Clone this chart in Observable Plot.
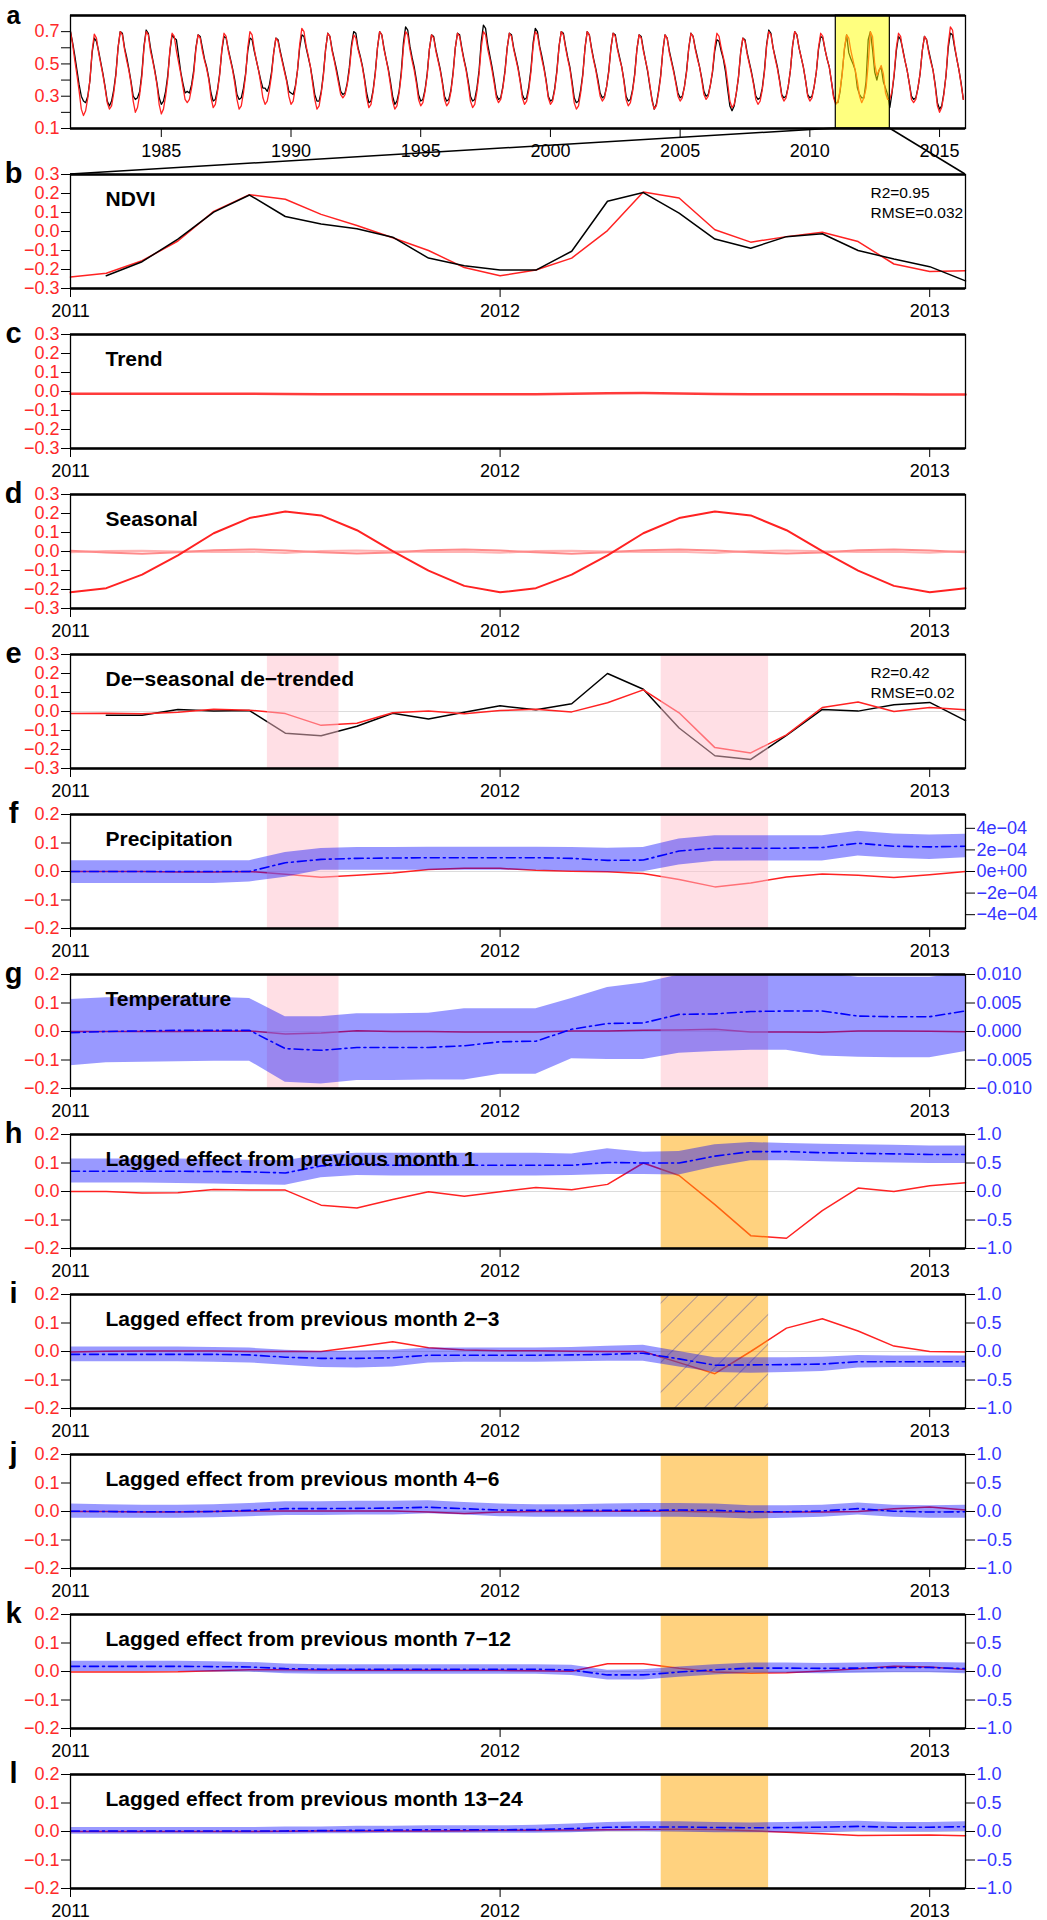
<!DOCTYPE html>
<html><head><meta charset="utf-8">
<script src="https://cdn.jsdelivr.net/npm/d3@7"></script>
<script src="https://cdn.jsdelivr.net/npm/@observablehq/plot@0.6"></script>
<style>
html,body{margin:0;padding:0;background:#fff;}
#chart{position:relative;width:1047px;height:1920px;background:#fff;overflow:hidden;}
#chart svg{position:absolute;left:0;}
</style></head><body><div id="chart"></div>
<script>
// ---------------- DATA ----------------
// Panel a: monthly NDVI, July 1981 - Dec 2015 (black = observed, red = modelled)
const aStart = 1981.5;
const aObs = [
 .70,.63,.55,.46,.37,.30,
 .27,.26,.30,.40,.57,.66,.64,.58,.51,.44,.36,.27,
 .24,.27,.34,.44,.60,.70,.69,.60,.54,.47,.39,.30,
 .28,.29,.33,.44,.61,.71,.69,.60,.53,.46,.38,.29,
 .25,.27,.33,.43,.58,.68,.66,.65,.55,.45,.38,.32,
 .33,.32,.37,.46,.60,.68,.67,.60,.53,.48,.41,.32,
 .27,.28,.34,.44,.58,.67,.66,.59,.53,.47,.40,.31,
 .28,.29,.35,.44,.58,.66,.65,.58,.52,.46,.40,.35,
 .35,.33,.37,.45,.57,.66,.65,.58,.52,.46,.40,.33,
 .32,.31,.36,.46,.60,.68,.67,.60,.54,.48,.40,.31,
 .27,.27,.33,.44,.59,.69,.67,.59,.53,.47,.40,.33,
 .31,.32,.38,.48,.62,.70,.69,.60,.55,.49,.41,.32,
 .26,.27,.34,.45,.60,.70,.68,.60,.53,.47,.39,.30,
 .25,.27,.33,.45,.63,.73,.71,.61,.54,.48,.40,.31,
 .27,.28,.34,.44,.59,.68,.67,.59,.53,.47,.39,.30,
 .27,.28,.34,.45,.60,.69,.68,.60,.53,.47,.39,.30,
 .27,.28,.35,.46,.64,.74,.72,.62,.55,.48,.40,.31,
 .28,.29,.36,.46,.60,.69,.68,.60,.54,.48,.40,.31,
 .28,.29,.36,.47,.63,.72,.70,.61,.55,.48,.40,.30,
 .27,.28,.35,.46,.61,.70,.69,.61,.54,.48,.39,.29,
 .26,.27,.34,.44,.60,.70,.68,.60,.53,.47,.40,.32,
 .29,.30,.36,.46,.60,.69,.68,.60,.54,.48,.40,.30,
 .27,.28,.34,.44,.59,.68,.67,.59,.52,.45,.36,.28,
 .22,.25,.33,.43,.58,.68,.66,.58,.52,.46,.39,.32,
 .29,.30,.36,.46,.60,.69,.67,.60,.54,.48,.41,.33,
 .30,.31,.37,.45,.58,.65,.64,.58,.53,.45,.34,.24,
 .21,.24,.32,.42,.57,.66,.65,.57,.51,.45,.38,.30,
 .28,.29,.35,.46,.62,.71,.69,.60,.54,.48,.40,.31,
 .29,.30,.36,.46,.61,.70,.68,.60,.54,.48,.40,.31,
 .29,.30,.36,.45,.59,.67,.66,.59,.53,.48,.39,.30,
 .26,.26,.33,.45,.59,.68,.57,.53,.50,.46,.35,.31,
 .29,.29,.39,.65,.70,.59,.45,.40,.46,.48,.39,.35,
 .31,.23,.32,.43,.58,.67,.65,.59,.52,.46,.38,.30,
 .28,.29,.35,.44,.58,.67,.65,.58,.52,.46,.37,.26,
 .22,.24,.32,.43,.60,.69,.68,.60,.53,.46,.38,.28
];
const aMod = [
 .70,.62,.52,.43,.33,.22,
 .18,.21,.29,.40,.58,.685,.66,.57,.50,.43,.35,.26,
 .22,.24,.32,.43,.60,.70,.68,.59,.52,.46,.38,.27,
 .20,.23,.31,.42,.60,.70,.68,.58,.52,.45,.37,.25,
 .19,.22,.30,.41,.59,.69,.67,.58,.51,.44,.36,.28,
 .26,.28,.35,.44,.59,.68,.66,.58,.52,.47,.40,.29,
 .23,.25,.33,.43,.59,.69,.67,.58,.52,.46,.38,.28,
 .22,.24,.32,.43,.60,.70,.68,.59,.52,.46,.38,.29,
 .25,.27,.34,.43,.57,.66,.64,.57,.51,.45,.39,.30,
 .25,.27,.35,.46,.62,.72,.70,.61,.55,.48,.38,.28,
 .22,.24,.32,.43,.59,.69,.67,.58,.52,.45,.38,.31,
 .29,.31,.37,.46,.60,.68,.66,.59,.54,.48,.40,.29,
 .23,.25,.33,.44,.60,.70,.68,.59,.53,.46,.37,.27,
 .22,.24,.32,.43,.60,.70,.68,.59,.52,.46,.38,.28,
 .24,.26,.33,.43,.59,.68,.66,.58,.52,.46,.38,.28,
 .24,.26,.33,.44,.60,.69,.67,.59,.52,.46,.37,.27,
 .23,.25,.33,.44,.60,.70,.68,.59,.53,.46,.38,.29,
 .26,.28,.35,.45,.60,.69,.67,.59,.53,.47,.39,.29,
 .25,.27,.34,.45,.61,.70,.68,.60,.53,.47,.39,.29,
 .25,.27,.34,.45,.61,.70,.68,.60,.53,.47,.37,.26,
 .22,.24,.32,.43,.60,.70,.68,.59,.52,.46,.38,.30,
 .27,.29,.36,.45,.60,.69,.67,.59,.53,.48,.39,.28,
 .24,.26,.33,.43,.59,.68,.66,.58,.52,.46,.37,.27,
 .22,.24,.32,.42,.58,.68,.66,.57,.51,.45,.38,.30,
 .27,.29,.36,.45,.60,.69,.67,.59,.53,.48,.40,.31,
 .28,.30,.37,.46,.60,.69,.67,.60,.54,.48,.38,.27,
 .23,.25,.32,.42,.57,.66,.64,.56,.50,.44,.37,.28,
 .25,.27,.34,.45,.61,.70,.68,.60,.53,.47,.39,.30,
 .27,.29,.36,.46,.61,.70,.68,.60,.54,.48,.40,.30,
 .27,.29,.36,.45,.60,.69,.67,.59,.53,.48,.39,.29,
 .25,.27,.34,.44,.60,.68,.66,.58,.52,.46,.39,.30,
 .26,.29,.35,.50,.70,.67,.50,.43,.46,.49,.44,.32,
 .28,.28,.33,.44,.60,.69,.67,.58,.52,.46,.38,.28,
 .26,.28,.35,.44,.58,.67,.65,.57,.51,.46,.36,.24,
 .20,.23,.31,.43,.62,.73,.71,.61,.53,.46,.37,.28
];
const aXTicks = [1985, 1990, 1995, 2000, 2005, 2010, 2015];
const aYTicks = [0.1, 0.2, 0.3, 0.4, 0.5, 0.6, 0.7];
const aYLabelled = [0.1, 0.3, 0.5, 0.7];
const aXDomain = [1981.5, 2016];
const aYDomain = [0.1, 0.8];

// Zoomed panels: monthly, Jan 2011 - Feb 2013
const zStart = 2011;
const zXTicks = [2011, 2012, 2013];
const zXDomain = [2011, 2013 + 1 / 12];
const shadeMonths = [[5.5, 7.5], [16.5, 19.5]];   // pink windows (e-g); 2nd one orange in h-l

// b NDVI anomaly
const bObs = [null, -0.233, -0.159, -0.040, 0.102, 0.192, 0.079, 0.040, 0.014, -0.030, -0.140, -0.180, -0.203, -0.203, -0.104, 0.159, 0.205, 0.097, -0.040, -0.088, -0.027, -0.012, -0.100, -0.145, -0.185, -0.260];
const bMod = [-0.240, -0.220, -0.154, -0.050, 0.106, 0.194, 0.170, 0.090, 0.032, -0.033, -0.100, -0.190, -0.233, -0.203, -0.140, 0.005, 0.208, 0.176, 0.009, -0.056, -0.027, -0.004, -0.053, -0.171, -0.210, -0.207];
// c trend
const cTrend = [-0.012, -0.012, -0.012, -0.012, -0.012, -0.012, -0.013, -0.014, -0.014, -0.014, -0.014, -0.014, -0.014, -0.014, -0.012, -0.009, -0.008, -0.010, -0.013, -0.015, -0.015, -0.015, -0.015, -0.015, -0.016, -0.016];
// d seasonal
const dSeason = [-0.215, -0.193, -0.122, -0.020, 0.096, 0.176, 0.211, 0.190, 0.112, 0.002, -0.101, -0.181, -0.215, -0.193, -0.122, -0.020, 0.096, 0.176, 0.211, 0.190, 0.112, 0.002, -0.101, -0.181, -0.215, -0.193];
const dSeasonB = [0.004, -0.005, -0.012, -0.004, 0.006, 0.011, 0.005, -0.004, -0.011, -0.005, 0.006, 0.011, 0.005, -0.004, -0.012, -0.004, 0.006, 0.011, 0.005, -0.004, -0.011, -0.005, 0.006, 0.011, 0.005, -0.004];
const dSeasonC = [-0.004, 0.002, 0.004, 0.000, -0.003, -0.001, -0.008, 0.002, 0.005, 0.001, -0.003, -0.001, -0.007, 0.002, 0.004, 0.000, -0.003, -0.001, -0.008, 0.002, 0.005, 0.001, -0.003, -0.001, -0.007, 0.002];
// e de-seasonal de-trended
const eObs = [null, -0.020, -0.020, 0.011, 0.002, 0.005, -0.114, -0.128, -0.078, -0.009, -0.039, -0.004, 0.030, 0.009, 0.041, 0.200, 0.117, -0.087, -0.233, -0.252, -0.126, 0.011, 0.002, 0.036, 0.048, -0.048];
const eMod = [-0.011, -0.009, -0.012, -0.004, 0.012, 0.007, -0.011, -0.073, -0.062, -0.007, 0.002, -0.012, 0.005, 0.012, -0.002, 0.046, 0.114, -0.007, -0.190, -0.218, -0.123, 0.021, 0.050, 0.000, 0.021, 0.009];
// f precipitation (red: left axis; blue: right axis)
const fRed = [0, 0, 0, -0.002, -0.002, 0, -0.010, -0.020, -0.013, -0.005, 0.007, 0.011, 0.011, 0.004, 0.001, -0.001, -0.007, -0.028, -0.054, -0.040, -0.019, -0.009, -0.013, -0.021, -0.011, 0.000];
const fBlue = [0, 0, 0, 0, 0, 0, 0.81e-4, 1.12e-4, 1.22e-4, 1.25e-4, 1.28e-4, 1.28e-4, 1.28e-4, 1.28e-4, 1.22e-4, 1.03e-4, 1.06e-4, 1.90e-4, 2.16e-4, 2.16e-4, 2.16e-4, 2.22e-4, 2.62e-4, 2.34e-4, 2.28e-4, 2.34e-4];
const fLo = [-1.12e-4, -1.12e-4, -1.12e-4, -1.10e-4, -1.10e-4, -0.97e-4, -0.53e-4, 0.12e-4, 0.12e-4, 0.12e-4, 0.12e-4, 0.12e-4, 0.12e-4, 0.12e-4, 0.03e-4, -0.06e-4, -0.03e-4, 0.60e-4, 0.94e-4, 0.97e-4, 0.97e-4, 0.97e-4, 1.44e-4, 1.22e-4, 1.12e-4, 1.28e-4];
const fHi = [1.00e-4, 1.00e-4, 1.00e-4, 1.00e-4, 1.00e-4, 1.00e-4, 1.75e-4, 2.12e-4, 2.22e-4, 2.22e-4, 2.25e-4, 2.25e-4, 2.25e-4, 2.25e-4, 2.22e-4, 2.16e-4, 2.22e-4, 3.00e-4, 3.31e-4, 3.31e-4, 3.31e-4, 3.31e-4, 3.72e-4, 3.47e-4, 3.37e-4, 3.44e-4];
// g temperature
const gRed = [0, 0, 0, 0, 0.001, 0.002, -0.009, -0.005, 0.003, 0.000, 0.000, -0.002, -0.002, -0.002, 0.002, 0.002, 0.004, 0.005, 0.008, -0.002, -0.002, -0.003, 0.002, 0.002, 0.001, -0.001];
const gBlue = [-0.0002, 0.0000, 0.0001, 0.0002, 0.0002, 0.0002, -0.0030, -0.0033, -0.0028, -0.0028, -0.0028, -0.0025, -0.0018, -0.0017, 0.0004, 0.0014, 0.0015, 0.0030, 0.0031, 0.0035, 0.0036, 0.0036, 0.0027, 0.0026, 0.0026, 0.0036];
const gLo = [-0.0060, -0.0055, -0.0054, -0.0053, -0.0052, -0.0052, -0.0089, -0.0092, -0.0086, -0.0086, -0.0085, -0.0085, -0.0075, -0.0075, -0.0048, -0.0049, -0.0049, -0.0038, -0.0035, -0.0033, -0.0033, -0.0043, -0.0045, -0.0046, -0.0046, -0.0035];
const gHi = [0.0056, 0.0059, 0.0060, 0.0060, 0.0060, 0.0058, 0.0026, 0.0026, 0.0031, 0.0031, 0.0032, 0.0040, 0.0040, 0.0040, 0.0058, 0.0077, 0.0085, 0.0099, 0.0102, 0.0102, 0.0102, 0.0102, 0.0095, 0.0095, 0.0095, 0.0102];
// h-l lagged effects
const hRed = [0, 0, -0.005, -0.004, 0.007, 0.005, 0.005, -0.048, -0.058, -0.028, -0.001, -0.017, -0.001, 0.014, 0.006, 0.025, 0.100, 0.056, -0.046, -0.155, -0.164, -0.067, 0.012, 0.000, 0.020, 0.031];
const hBlue = [0.355, 0.355, 0.355, 0.355, 0.350, 0.345, 0.325, 0.45, 0.48, 0.46, 0.46, 0.46, 0.46, 0.46, 0.46, 0.51, 0.50, 0.50, 0.62, 0.70, 0.70, 0.68, 0.67, 0.66, 0.65, 0.65];
const hLo = [0.15, 0.15, 0.15, 0.14, 0.13, 0.12, 0.11, 0.24, 0.28, 0.27, 0.27, 0.27, 0.27, 0.27, 0.28, 0.30, 0.30, 0.29, 0.43, 0.54, 0.54, 0.52, 0.51, 0.50, 0.49, 0.49];
const hHi = [0.57, 0.57, 0.57, 0.57, 0.56, 0.55, 0.54, 0.64, 0.67, 0.67, 0.67, 0.67, 0.67, 0.67, 0.66, 0.75, 0.69, 0.70, 0.82, 0.86, 0.84, 0.83, 0.82, 0.81, 0.80, 0.80];
const iRed = [-0.002, 0.001, 0.002, 0.002, 0.002, 0.000, 0.000, 0.000, 0.017, 0.034, 0.013, 0.005, 0.003, 0.003, 0.001, 0.000, 0.000, -0.039, -0.078, 0.000, 0.082, 0.115, 0.072, 0.019, 0.000, -0.002];
const iBlue = [-0.05, -0.05, -0.05, -0.05, -0.05, -0.06, -0.10, -0.12, -0.12, -0.11, -0.065, -0.065, -0.065, -0.065, -0.060, -0.050, -0.030, -0.130, -0.240, -0.235, -0.230, -0.220, -0.180, -0.180, -0.180, -0.180];
const iLo = [-0.18, -0.18, -0.18, -0.18, -0.19, -0.20, -0.24, -0.28, -0.29, -0.27, -0.20, -0.19, -0.19, -0.19, -0.18, -0.17, -0.17, -0.27, -0.37, -0.38, -0.37, -0.35, -0.29, -0.28, -0.28, -0.28];
const iHi = [0.08, 0.08, 0.08, 0.08, 0.07, 0.06, 0.02, 0.00, 0.01, 0.02, 0.06, 0.06, 0.06, 0.06, 0.07, 0.09, 0.11, 0.00, -0.11, -0.11, -0.11, -0.10, -0.07, -0.08, -0.08, -0.08];
const jRed = [0, 0, -0.002, -0.002, 0, 0.002, 0.002, 0.002, 0.002, 0.002, -0.002, -0.007, -0.002, 0.000, 0.000, 0.001, 0.001, 0.001, -0.002, -0.003, -0.002, -0.002, 0.000, 0.010, 0.016, 0.005];
const jBlue = [0.005, 0.000, -0.005, -0.005, 0.000, 0.020, 0.050, 0.050, 0.055, 0.060, 0.075, 0.050, 0.025, 0.020, 0.020, 0.020, 0.020, 0.025, 0.020, -0.005, -0.005, 0.010, 0.050, 0.005, -0.010, -0.005];
const jLo = [-0.12, -0.12, -0.12, -0.12, -0.11, -0.09, -0.07, -0.07, -0.06, -0.06, -0.04, -0.06, -0.09, -0.10, -0.10, -0.10, -0.10, -0.10, -0.11, -0.13, -0.12, -0.10, -0.06, -0.10, -0.12, -0.12];
const jHi = [0.13, 0.12, 0.11, 0.11, 0.12, 0.14, 0.17, 0.17, 0.18, 0.18, 0.19, 0.16, 0.13, 0.12, 0.12, 0.13, 0.14, 0.14, 0.13, 0.10, 0.10, 0.11, 0.15, 0.11, 0.10, 0.11];
const kRed = [-0.002, -0.002, -0.002, -0.001, 0.003, 0.006, 0.006, 0.005, 0.004, 0.004, 0.004, 0.004, 0.004, 0.003, 0.001, 0.027, 0.027, 0.011, -0.002, -0.006, -0.004, 0.002, 0.010, 0.018, 0.016, 0.007];
const kBlue = [0.090, 0.090, 0.090, 0.090, 0.085, 0.080, 0.050, 0.040, 0.040, 0.040, 0.040, 0.040, 0.040, 0.040, 0.025, -0.060, -0.060, -0.010, 0.030, 0.060, 0.060, 0.055, 0.060, 0.070, 0.070, 0.050];
const kLo = [0.00, 0.00, 0.00, 0.00, -0.01, -0.01, -0.04, -0.05, -0.05, -0.05, -0.05, -0.05, -0.05, -0.05, -0.07, -0.15, -0.15, -0.10, -0.06, -0.03, -0.03, -0.04, -0.03, -0.02, -0.02, -0.04];
const kHi = [0.18, 0.18, 0.18, 0.18, 0.17, 0.16, 0.13, 0.12, 0.12, 0.12, 0.12, 0.12, 0.12, 0.12, 0.11, 0.02, 0.03, 0.08, 0.12, 0.15, 0.15, 0.14, 0.15, 0.16, 0.16, 0.15];
const lRed = [0, 0, 0, 0, 0, 0, 0.001, 0.002, 0.002, 0.002, 0.002, 0.003, 0.004, 0.004, 0.005, 0.006, 0.007, 0.008, 0.007, 0.003, -0.003, -0.008, -0.014, -0.013, -0.012, -0.015];
const lBlue = [0.01, 0.01, 0.01, 0.01, 0.01, 0.01, 0.01, 0.015, 0.02, 0.025, 0.03, 0.03, 0.03, 0.035, 0.05, 0.075, 0.08, 0.08, 0.07, 0.065, 0.07, 0.075, 0.09, 0.075, 0.075, 0.085];
const lLo = [-0.05, -0.05, -0.05, -0.05, -0.05, -0.05, -0.05, -0.04, -0.04, -0.03, -0.03, -0.03, -0.03, -0.03, -0.02, 0.00, 0.00, -0.01, -0.02, -0.02, -0.02, -0.02, 0.00, -0.01, -0.01, 0.00];
const lHi = [0.07, 0.07, 0.07, 0.07, 0.07, 0.07, 0.08, 0.08, 0.09, 0.09, 0.10, 0.10, 0.10, 0.11, 0.13, 0.16, 0.17, 0.17, 0.16, 0.15, 0.16, 0.17, 0.18, 0.16, 0.16, 0.17];

const laggedTitles = ["Lagged effect from previous month 1", "Lagged effect from previous month 2\u22123", "Lagged effect from previous month 4\u22126", "Lagged effect from previous month 7\u221212", "Lagged effect from previous month 13\u221224"];

// Right-axis tick labels
const fRightTicks = [-4e-4, -2e-4, 0, 2e-4, 4e-4];
const fRightLabels = ["\u22124e\u221204", "\u22122e\u221204", "0e+00", "2e\u221204", "4e\u221204"];
const gRightTicks = [-0.01, -0.005, 0, 0.005, 0.01];
const gRightLabels = ["\u22120.010", "\u22120.005", "0.000", "0.005", "0.010"];
const lagRightTicks = [-1, -0.5, 0, 0.5, 1];
const lagRightLabels = ["\u22121.0", "\u22120.5", "0.0", "0.5", "1.0"];

// ---------------- DRAWING ----------------
const RED = "#ff2222", RED_TXT = "#ff2a2a", BLUE = "#0000ff", BLUE_TXT = "#3535ff";
const W = 1047, ML = 70, MR = 82, PH = 160;
const FONT = "Liberation Sans, Arial, Helvetica, sans-serif";
const TICK_FS = 18;
const chart = document.getElementById("chart");
const fmt1 = d => (d < -1e-9 ? "\u2212" : "") + Math.abs(d).toFixed(1);

function makePanel(cfg) {
  const {letter, title, yDomain, yTicks, yFormat, xDomain, xTicks, mt, fh, body, right, stats, letterSize = 29, letterDy = -1} = cfg;
  const marks = [...body.filter(Boolean)];
  marks.push(Plot.frame({stroke: "black", strokeWidth: 1.3}));
  marks.push(Plot.ruleY(yDomain, {stroke: "black", strokeWidth: 2.4}));
  marks.push(Plot.axisY(yTicks, {anchor: "left", tickSize: 9, tickPadding: 2, tickFormat: yFormat, stroke: "black", fill: RED_TXT, fontSize: TICK_FS, label: null}));
  if (right) {
    const vals = right.ticks.map(v => v / right.factor);
    marks.push(Plot.axisY(vals, {anchor: "right", tickSize: 9, tickPadding: 2, stroke: "black", fill: BLUE_TXT, fontSize: TICK_FS, label: null,
      tickFormat: d => right.labels[vals.findIndex(v => Math.abs(v - d) < 1e-9)]}));
  }
  marks.push(Plot.axisX(xTicks, {anchor: "bottom", tickSize: 9, tickPadding: 7, tickFormat: d => String(d), stroke: "black", fill: "black", fontSize: TICK_FS, label: null}));
  if (title) marks.push(Plot.text([title], {text: d => d, frameAnchor: "top-left", dx: 35, dy: 25, textAnchor: "start", lineAnchor: "middle", fontWeight: "bold", fontSize: 21, fill: "black"}));
  if (stats) {
    marks.push(Plot.text([stats[0]], {text: d => d, frameAnchor: "top-right", dx: -95, dy: 19, textAnchor: "start", lineAnchor: "middle", fontSize: 15.5, fill: "black"}));
    marks.push(Plot.text([stats[1]], {text: d => d, frameAnchor: "top-right", dx: -95, dy: 39, textAnchor: "start", lineAnchor: "middle", fontSize: 15.5, fill: "black"}));
  }
  marks.push(Plot.text([letter], {text: d => d, frameAnchor: "top-left", dx: -57, dy: letterDy, textAnchor: "middle", lineAnchor: "middle", fontWeight: "bold", fontSize: letterSize, fill: "black"}));
  return Plot.plot({
    width: W, height: PH, marginLeft: ML, marginRight: MR, marginTop: mt, marginBottom: PH - mt - fh,
    x: {domain: xDomain}, y: {domain: yDomain},
    style: {fontFamily: FONT, fontSize: "17px", background: "transparent", overflow: "visible"},
    marks
  });
}
function place(svg, top) { svg.style.top = top + "px"; chart.appendChild(svg); return svg; }

// Panel a
const aRows = aObs.map((v, i) => ({t: aStart + i / 12, obs: v, mod: aMod[i]}));
const plotA = place(makePanel({
  letter: "a", letterSize: 25, letterDy: 0, yDomain: aYDomain, yTicks: aYTicks,
  yFormat: d => aYLabelled.some(v => Math.abs(v - d) < 1e-9) ? d.toFixed(1) : "",
  xDomain: aXDomain, xTicks: aXTicks, mt: 15, fh: 113,
  body: [
    Plot.line(aRows, {x: "t", y: "obs", stroke: "black", strokeWidth: 1.3}),
    Plot.line(aRows, {x: "t", y: "mod", stroke: RED, strokeWidth: 1.3}),
    Plot.rect([{x1: zXDomain[0], x2: zXDomain[1], y1: aYDomain[0], y2: aYDomain[1]}], {x1: "x1", x2: "x2", y1: "y1", y2: "y2", fill: "#ffff00", fillOpacity: 0.5, stroke: "black", strokeWidth: 1.2})
  ]
}), 0);

// zoomed rows
const zRows = (cols) => cols[Object.keys(cols)[0]].map((_, i) => {
  const r = {t: zStart + i / 12};
  for (const k in cols) r[k] = cols[k][i];
  return r;
});
const shade = (idx, yDom) => [{x1: zStart + shadeMonths[idx][0] / 12, x2: zStart + shadeMonths[idx][1] / 12, y1: yDom[0], y2: yDom[1]}];
const Y3 = [-0.3, 0.3], Y3T = [-0.3, -0.2, -0.1, 0, 0.1, 0.2, 0.3];
const Y2 = [-0.2, 0.2], Y2T = [-0.2, -0.1, 0, 0.1, 0.2];
const FT = k => 174 + 160 * k; // frame top of zoomed panel k
const zBase = {xDomain: zXDomain, xTicks: zXTicks, mt: 14, fh: 114, yFormat: fmt1};

// b
const plotB = place(makePanel({...zBase, letter: "b", title: "NDVI", yDomain: Y3, yTicks: Y3T, stats: ["R2=0.95", "RMSE=0.032"],
  body: (() => { const r = zRows({obs: bObs, mod: bMod}); return [
    Plot.line(r, {x: "t", y: "mod", stroke: RED, strokeWidth: 1.5}),
    Plot.line(r, {x: "t", y: "obs", stroke: "black", strokeWidth: 1.5})
  ]; })()
}), FT(0) - 14);

// c
place(makePanel({...zBase, letter: "c", title: "Trend", yDomain: Y3, yTicks: Y3T,
  body: [Plot.line(zRows({v: cTrend}), {x: "t", y: "v", stroke: "#ff3b3b", strokeWidth: 2.5})]
}), FT(1) - 14);

// d
place(makePanel({...zBase, letter: "d", title: "Seasonal", yDomain: Y3, yTicks: Y3T,
  body: (() => { const r = zRows({s: dSeason, b: dSeasonB, c: dSeasonC}); return [
    Plot.line(r, {x: "t", y: "c", stroke: "#ffb3b3", strokeWidth: 2}),
    Plot.line(r, {x: "t", y: "b", stroke: "#ff8a8a", strokeWidth: 2}),
    Plot.line(r, {x: "t", y: "s", stroke: RED, strokeWidth: 2})
  ]; })()
}), FT(2) - 14);

// e
place(makePanel({...zBase, letter: "e", title: "De\u2212seasonal de\u2212trended", yDomain: Y3, yTicks: Y3T, stats: ["R2=0.42", "RMSE=0.02"],
  body: (() => { const r = zRows({obs: eObs, mod: eMod}); return [
    Plot.ruleY([0], {stroke: "#dcdcdc", strokeWidth: 1}),
    Plot.line(r, {x: "t", y: "obs", stroke: "black", strokeWidth: 1.5}),
    Plot.line(r, {x: "t", y: "mod", stroke: RED, strokeWidth: 1.5}),
    Plot.rect([...shade(0, Y3), ...shade(1, Y3)], {x1: "x1", x2: "x2", y1: "y1", y2: "y2", fill: "#ffc0cb", fillOpacity: 0.5})
  ]; })()
}), FT(3) - 14);

function climBody(red, blue, lo, hi, factor, shadeColor, shades, hatch) {
  const r = zRows({red, blue, lo, hi});
  return [
    hatch ? (() => {
      const ns = "http://www.w3.org/2000/svg";
      const defs = document.createElementNS(ns, "defs");
      defs.innerHTML = '<pattern id="hatch" patternUnits="userSpaceOnUse" width="21" height="21" patternTransform="rotate(45)"><line x1="0" y1="0" x2="0" y2="21" stroke="#7c6c9c" stroke-width="1.2"/></pattern>';
      return defs;
    }) : null,
    Plot.ruleY([0], {stroke: "#dcdcdc", strokeWidth: 1}),
    Plot.line(r, {x: "t", y: "red", stroke: RED, strokeWidth: 1.5}),
    Plot.rect(shades, {x1: "x1", x2: "x2", y1: "y1", y2: "y2", fill: shadeColor, fillOpacity: 0.5}),
    hatch ? Plot.rect(shades, {x1: "x1", x2: "x2", y1: "y1", y2: "y2", fill: "url(#hatch)"}) : null,
    Plot.areaY(r, {x: "t", y1: d => d.lo / factor, y2: d => d.hi / factor, fill: BLUE, fillOpacity: 0.4, clip: true}),
    Plot.line(r, {x: "t", y: d => d.blue / factor, stroke: BLUE, strokeWidth: 1.6, strokeDasharray: "9,4,2,4", clip: true})
  ];
}

// f
const fFactor = 5.28e-4 / 0.2;
place(makePanel({...zBase, letter: "f", title: "Precipitation", yDomain: Y2, yTicks: Y2T,
  right: {factor: fFactor, ticks: fRightTicks, labels: fRightLabels},
  body: climBody(fRed, fBlue, fLo, fHi, fFactor, "#ffc0cb", [...shade(0, Y2), ...shade(1, Y2)], false)
}), FT(4) - 14);

// g
const gFactor = 0.05;
place(makePanel({...zBase, letter: "g", title: "Temperature", yDomain: Y2, yTicks: Y2T,
  right: {factor: gFactor, ticks: gRightTicks, labels: gRightLabels},
  body: climBody(gRed, gBlue, gLo, gHi, gFactor, "#ffc0cb", [...shade(0, Y2), ...shade(1, Y2)], false)
}), FT(5) - 14);

// h-l
const lagged = [
  {letter: "h", red: hRed, blue: hBlue, lo: hLo, hi: hHi, hatch: false},
  {letter: "i", red: iRed, blue: iBlue, lo: iLo, hi: iHi, hatch: true},
  {letter: "j", red: jRed, blue: jBlue, lo: jLo, hi: jHi, hatch: false},
  {letter: "k", red: kRed, blue: kBlue, lo: kLo, hi: kHi, hatch: false},
  {letter: "l", red: lRed, blue: lBlue, lo: lLo, hi: lHi, hatch: false}
];
const lagFactor = 5;
lagged.forEach((p, n) => {
  place(makePanel({...zBase, letter: p.letter, title: laggedTitles[n], yDomain: Y2, yTicks: Y2T,
    right: {factor: lagFactor, ticks: lagRightTicks, labels: lagRightLabels},
    body: climBody(p.red, p.blue, p.lo, p.hi, lagFactor, "#ffa500", shade(1, Y2), p.hatch)
  }), FT(6 + n) - 14);
});

// zoom connectors from panel a's highlighted window to panel b's frame
const xa = plotA.scale("x"), ya = plotA.scale("y"), xb = plotB.scale("x"), yb = plotB.scale("y");
const bTop = FT(0) - 14;
const ov = d3.select(chart).append("svg").attr("width", W).attr("height", 1920).style("top", "0px").style("pointer-events", "none");
[[zXDomain[0], xb.domain[0]], [zXDomain[1], xb.domain[1]]].forEach(([va, vb]) => {
  ov.append("line")
    .attr("x1", xa.apply(va)).attr("y1", ya.apply(aYDomain[0]))
    .attr("x2", xb.apply(vb)).attr("y2", bTop + yb.apply(Y3[1]))
    .attr("stroke", "black").attr("stroke-width", 1.5);
});
</script></body></html>
